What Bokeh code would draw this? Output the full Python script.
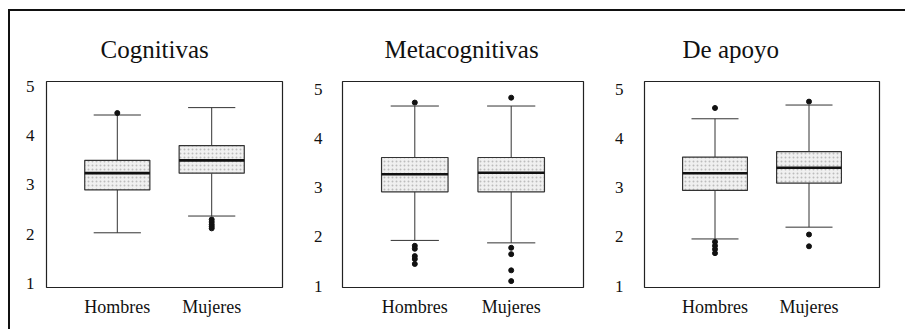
from bokeh.plotting import figure
from bokeh.layouts import row
from bokeh.models import FactorRange, Range1d, ColumnDataSource
from bokeh.transform import dodge
from bokeh.embed import file_html
from bokeh.resources import INLINE

groups = ["Hombres", "Mujeres"]
titles = ["Cognitivas", "Metacognitivas", "De apoyo"]

# Cognitivas
cog_q1 = [2.90, 3.24]
cog_med = [3.24, 3.50]
cog_q3 = [3.50, 3.80]
cog_lo = [2.03, 2.37]
cog_hi = [4.42, 4.57]
cog_out_grp = ["Hombres", "Mujeres", "Mujeres", "Mujeres", "Mujeres", "Mujeres"]
cog_out_val = [4.46, 2.30, 2.25, 2.20, 2.16, 2.12]

# Metacognitivas
meta_q1 = [2.92, 2.92]
meta_med = [3.28, 3.31]
meta_q3 = [3.62, 3.62]
meta_lo = [1.93, 1.88]
meta_hi = [4.67, 4.67]
meta_out_grp = ["Hombres", "Hombres", "Hombres", "Hombres", "Hombres", "Hombres",
                "Mujeres", "Mujeres", "Mujeres", "Mujeres", "Mujeres"]
meta_out_val = [4.74, 1.82, 1.76, 1.61, 1.55, 1.45,
                4.84, 1.78, 1.65, 1.32, 1.10]

# De apoyo
apo_q1 = [2.95, 3.10]
apo_med = [3.30, 3.41]
apo_q3 = [3.63, 3.74]
apo_lo = [1.96, 2.20]
apo_hi = [4.41, 4.69]
apo_out_grp = ["Hombres", "Hombres", "Hombres", "Hombres", "Hombres",
               "Mujeres", "Mujeres", "Mujeres"]
apo_out_val = [4.63, 1.90, 1.82, 1.75, 1.67, 4.76, 2.05, 1.81]

y_ticks = [1, 2, 3, 4, 5]

FONT = "Liberation Serif"

panels = [
    dict(title=titles[0], q1=cog_q1, med=cog_med, q3=cog_q3, lo=cog_lo, hi=cog_hi,
         og=cog_out_grp, ov=cog_out_val, yr=(0.92, 5.10),
         width=288, br=28, toff=54, ystand=12, margin=(0, 0, 0, 12)),
    dict(title=titles[1], q1=meta_q1, med=meta_med, q3=meta_q3, lo=meta_lo, hi=meta_hi,
         og=meta_out_grp, ov=meta_out_val, yr=(0.97, 5.17),
         width=301, br=28, toff=42, ystand=20, margin=(0, 0, 0, 0)),
    dict(title=titles[2], q1=apo_q1, med=apo_med, q3=apo_q3, lo=apo_lo, hi=apo_hi,
         og=apo_out_grp, ov=apo_out_val, yr=(0.97, 5.17),
         width=294, br=26, toff=38, ystand=21, margin=(0, 0, 0, 0)),
]

figs = []
for pd_ in panels:
    xr = FactorRange(factors=groups, range_padding=0.25, range_padding_units="absolute")
    p = figure(x_range=xr, y_range=Range1d(*pd_["yr"]), width=pd_["width"], height=318,
               output_backend="svg", toolbar_location=None,
               min_border_left=0, min_border_right=pd_["br"],
               min_border_top=70, min_border_bottom=42, margin=pd_["margin"])
    p.title.text = pd_["title"]
    p.title.align = "left"
    p.title.offset = pd_["toff"]
    p.title.text_font = FONT
    p.title.text_font_size = "25px"
    p.title.text_font_style = "normal"
    p.title.text_color = "#111111"
    p.title.standoff = 38

    src = ColumnDataSource(dict(g=groups, q1=pd_["q1"], med=pd_["med"], q3=pd_["q3"],
                                lo=pd_["lo"], hi=pd_["hi"]))
    # whisker stems
    p.segment(x0="g", y0="q3", x1="g", y1="hi", source=src, line_color="#333333", line_width=1)
    p.segment(x0="g", y0="lo", x1="g", y1="q1", source=src, line_color="#333333", line_width=1)
    # caps
    p.segment(x0=dodge("g", -0.25, range=xr), y0="hi", x1=dodge("g", 0.25, range=xr), y1="hi",
              source=src, line_color="#333333", line_width=1)
    p.segment(x0=dodge("g", -0.25, range=xr), y0="lo", x1=dodge("g", 0.25, range=xr), y1="lo",
              source=src, line_color="#333333", line_width=1)
    # boxes
    p.vbar(x="g", width=0.69, bottom="q1", top="q3", source=src,
           fill_color="#f0f0f0", line_color="#333333", line_width=1.2,
           hatch_pattern="dot", hatch_color="#999999", hatch_scale=4, hatch_alpha=0.6)
    # medians
    p.segment(x0=dodge("g", -0.345, range=xr), y0="med", x1=dodge("g", 0.345, range=xr), y1="med",
              source=src, line_color="#111111", line_width=2.6)
    # outliers
    p.scatter(x=pd_["og"], y=pd_["ov"], size=5, fill_color="#111111", line_color="#111111")

    p.xgrid.visible = False
    p.ygrid.visible = False
    p.outline_line_color = "#222222"
    p.outline_line_width = 1.2
    for ax in (p.xaxis[0], p.yaxis[0]):
        ax.axis_line_color = None
        ax.major_tick_line_color = None
        ax.minor_tick_line_color = None
        ax.major_tick_out = 0
        ax.major_tick_in = 0
        ax.minor_tick_out = 0
        ax.minor_tick_in = 0
        ax.major_label_text_font = FONT
        ax.major_label_text_color = "#111111"
    p.yaxis.ticker = y_ticks
    p.yaxis.major_label_text_font_size = "17px"
    p.yaxis.major_label_standoff = pd_["ystand"]
    p.xaxis.major_label_text_font_size = "18px"
    p.xaxis.major_label_standoff = 9
    p.xaxis.major_label_orientation = "horizontal"
    figs.append(p)

layout = row(*figs, spacing=0,
             styles={"margin-left": "8px", "margin-top": "9px",
                     "border-top": "2px solid #111111", "border-left": "2px solid #111111"})

open("out.html", "w").write(file_html(layout, INLINE))
